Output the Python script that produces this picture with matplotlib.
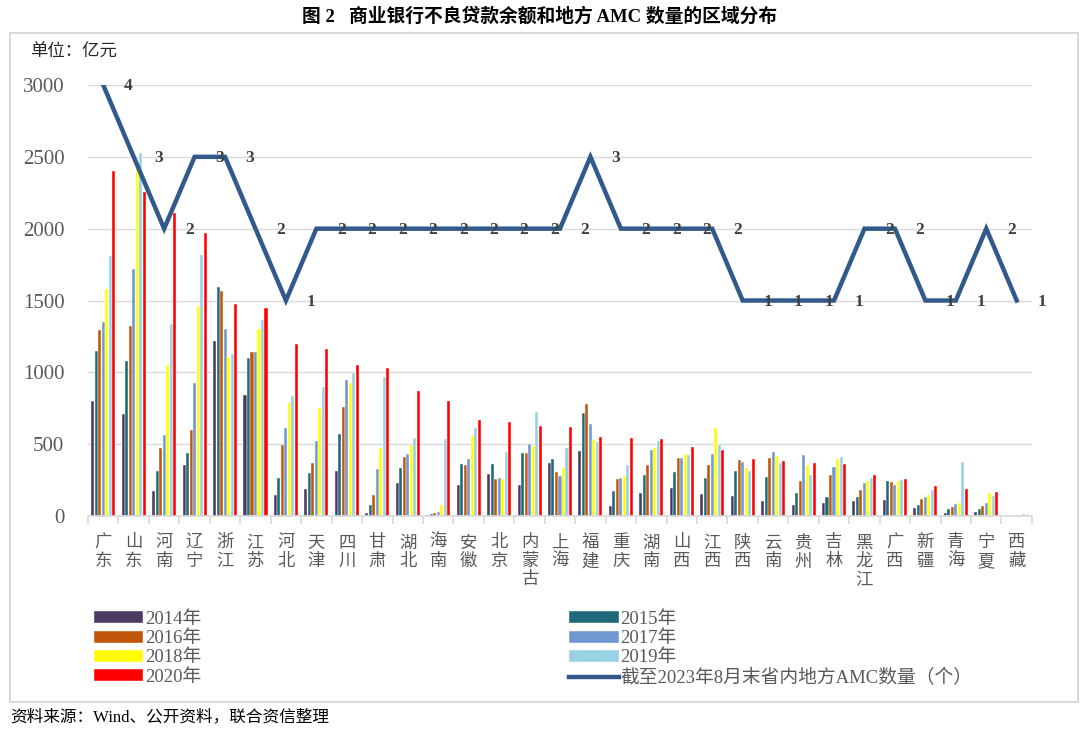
import numpy as np
import matplotlib.pyplot as plt
from matplotlib.patches import Rectangle

plt.rcParams['font.family'] = ['Liberation Serif', 'Noto Sans CJK SC', 'DejaVu Sans']

provinces = ['广东', '山东', '河南', '辽宁', '浙江', '江苏', '河北', '天津', '四川', '甘肃',
             '湖北', '海南', '安徽', '北京', '内蒙古', '上海', '福建', '重庆', '湖南', '山西',
             '江西', '陕西', '云南', '贵州', '吉林', '黑龙江', '广西', '新疆', '青海', '宁夏', '西藏']

npl_2014 = [800, 711, 174, 357, 1215, 843, 143, 185, 316, 19, 232, 7, 213, 290, 216, 367,
            452, 72, 162, 193, 153, 137, 102, 77, 88, 104, 109, 53, 19, 30, 1]
npl_2015 = [1148, 1076, 313, 437, 1595, 1100, 267, 298, 568, 79, 336, 14, 360, 360, 437, 394,
            717, 176, 283, 309, 262, 313, 269, 160, 135, 132, 244, 77, 51, 49, 2]
npl_2016 = [1298, 1320, 470, 602, 1567, 1139, 497, 371, 761, 148, 413, 19, 353, 255, 437, 306,
            780, 255, 357, 406, 353, 387, 407, 244, 285, 179, 237, 118, 65, 70, 2]
npl_2017 = [1347, 1722, 567, 924, 1299, 1139, 616, 520, 949, 329, 432, 28, 397, 267, 502, 276,
            643, 262, 462, 401, 429, 374, 445, 422, 341, 232, 216, 132, 84, 90, 4]
npl_2018 = [1583, 2450, 1049, 1465, 1109, 1299, 784, 753, 926, 476, 496, 79, 559, 256, 490, 336,
            527, 278, 476, 432, 612, 332, 421, 355, 397, 244, 244, 148, 88, 160, 5]
npl_2019 = [1810, 2526, 1340, 1820, 1130, 1364, 832, 896, 993, 967, 543, 536, 610, 448, 724, 473,
            517, 355, 520, 425, 496, 316, 370, 288, 408, 264, 253, 181, 378, 142, 14]
npl_2020 = [2403, 2252, 2109, 1970, 1479, 1447, 1197, 1165, 1049, 1028, 870, 800, 666, 651, 626, 622,
            550, 541, 536, 480, 462, 394, 383, 369, 362, 283, 258, 209, 186, 169, 7]
amc_count = [4, 3, 2, 3, 3, 2, 1, 2, 2, 2, 2, 2, 2, 2, 2, 2, 3, 2, 2, 2, 2, 1, 1, 1, 1, 2, 2, 1, 1, 2, 1]

years = ['2014年', '2015年', '2016年', '2017年', '2018年', '2019年', '2020年']
series = [npl_2014, npl_2015, npl_2016, npl_2017, npl_2018, npl_2019, npl_2020]
colors = ['#4B3A62', '#1F6A7A', '#C0570A', '#6F98CF', '#FFFF00', '#97D1E2', '#FF0000']
line_label = '截至2023年8月末省内地方AMC数量（个）'
line_color = '#31598C'
gray = '#595959'

fig = plt.figure(figsize=(10.8, 7.31), dpi=100)
ax = fig.add_axes([0.0815, 0.2941, 0.874, 0.5896])

x = np.arange(len(provinces))
slot = 0.115
bars = []
for i, (vals, c) in enumerate(zip(series, colors)):
    b = ax.bar(x + (i - 3) * slot, vals, width=0.1, color=c, edgecolor='white', linewidth=0.3,
               label=years[i], zorder=2)
    bars.append(b)

ax.set_xlim(-0.5, len(provinces) - 0.5)
ax.set_ylim(0, 3000)
ax.set_yticks(np.arange(0, 3001, 500))
ax.tick_params(axis='y', length=0, labelsize=15, labelcolor=gray, pad=17)
ax.grid(axis='y', color='#D9D9D9', linewidth=1, zorder=0)
ax.set_axisbelow(True)
for s in ['top', 'right', 'left']:
    ax.spines[s].set_visible(False)
ax.spines['bottom'].set_color('#D9D9D9')
ax.spines['bottom'].set_linewidth(1.2)

# category labels: one character per line
ax.set_xticks(x)
ax.set_xticklabels(['\n'.join(p) for p in provinces], fontsize=12.5, color=gray, linespacing=1.2)
ax.tick_params(axis='x', length=0, pad=14)
ax.set_xticks(np.arange(-0.5, len(provinces)), minor=True)
ax.tick_params(axis='x', which='minor', length=6, color='#D9D9D9', width=1.2)

# AMC count on hidden secondary axis
ax2 = ax.twinx()
ax2.set_ylim(-2, 4)
ax2.axis('off')
ln, = ax2.plot(x, amc_count, color=line_color, linewidth=3.2, label=line_label,
               solid_joinstyle='miter', zorder=3)
for xi, v in zip(x, amc_count):
    ax2.annotate(str(v), (xi, v), xytext=(18, -1), textcoords='offset points',
                 ha='center', va='center', fontsize=12.5, fontweight='bold', color='#404040',
                 annotation_clip=False)

handles = [bars[0], bars[2], bars[4], bars[6], bars[1], bars[3], bars[5], ln]
labels = [years[0], years[2], years[4], years[6], years[1], years[3], years[5], line_label]
fig.legend(handles, labels, ncol=2, loc='upper left', bbox_to_anchor=(0.078, 0.177),
           frameon=False, fontsize=13.5, labelcolor=gray, handlelength=2.65, handleheight=0.6,
           handletextpad=0.1, labelspacing=0.12, columnspacing=19.6, borderpad=0)

# frame, title, unit, source
fig.patches.append(Rectangle((10 / 1080, 1 - 702 / 731), 1068 / 1080, 669 / 731,
                             transform=fig.transFigure, fill=False, edgecolor='#D9D9D9',
                             linewidth=1.5))
fig.text(0.5, 1 - 16 / 731, '图 2   商业银行不良贷款余额和地方 AMC 数量的区域分布',
         ha='center', va='center', fontsize=13.5, fontweight='bold', color='black')
fig.text(30 / 1080, 1 - 53 / 731, '单位：亿元', ha='left', va='center', fontsize=12.5, color='#262626')
fig.text(10 / 1080, 1 - 717 / 731, '资料来源：Wind、公开资料，联合资信整理',
         ha='left', va='center', fontsize=12, color='black')

fig.savefig('out.png', dpi=100)
